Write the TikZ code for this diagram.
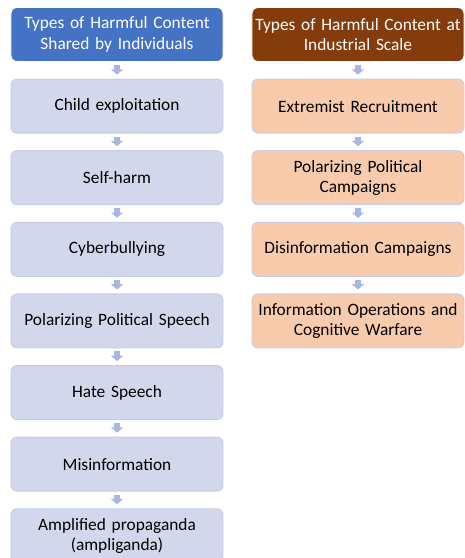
\documentclass[tikz,border=0pt]{standalone}
\usepackage{fontspec}
\setmainfont{Carlito}
\usetikzlibrary{positioning,arrows.meta}
\definecolor{headblue}{HTML}{4472C4}
\definecolor{headbrown}{HTML}{843C0C}
\definecolor{boxlav}{HTML}{D2D7EC}
\definecolor{boxpeach}{HTML}{F8CBAD}
\definecolor{rimblue}{HTML}{C5CDE8}
\definecolor{flowblue}{HTML}{A9B6DD}

\begin{document}
\begin{tikzpicture}[x=0.03cm,y=-0.03cm,
		node distance=0.5cm,
		every node/.style = {rounded corners=0.18cm, minimum width=6.36cm, minimum height=1.62cm,
			text width=6.2cm, align=center, inner sep=0pt, font=\fontsize{14.8}{17.4}\selectfont},
		header/.style = {draw=white, line width=0.8pt, text=white},
		indiv/.style = {fill=boxlav, draw=rimblue, line width=0.8pt},
		indust/.style = {fill=boxpeach, draw=rimblue, line width=0.8pt},
		flow/.style = {draw=flowblue, line width=0.18cm, shorten <=0.09cm, shorten >=0.12cm,
			-{Triangle[width=0.36cm,length=0.16cm]}}
		]
		\useasboundingbox (0,0) rectangle (464,558);
		% individuals
		\node[header, fill=headblue] (ih) at (117,34.5) {Types of Harmful Content\\Shared by Individuals};
		\node[indiv, below=of ih] (i1) {Child exploitation};
		\node[indiv, below=of i1] (i2) {Self-harm};
		\node[indiv, below=of i2] (i3) {Cyberbullying};
		\node[indiv, below=of i3] (i4) {Polarizing Political Speech};
		\node[indiv, below=of i4] (i5) {Hate Speech};
		\node[indiv, below=of i5] (i6) {Misinformation};
		\node[indiv, below=of i6] (i7) {Amplified propaganda\\(ampliganda)};
		% industrial scale
		\node[header, fill=headbrown] (sh) at (358,34.5) {Types of Harmful Content at\\Industrial Scale};
		\node[indust, below=of sh] (s1) {Extremist Recruitment};
		\node[indust, below=of s1] (s2) {Polarizing Political\\Campaigns};
		\node[indust, below=of s2] (s3) {Disinformation Campaigns};
		\node[indust, below=of s3] (s4) {Information Operations and\\Cognitive Warfare};
		% flow arrows
		\draw[flow] (ih) -- (i1);
		\draw[flow] (i1) -- (i2);
		\draw[flow] (i2) -- (i3);
		\draw[flow] (i3) -- (i4);
		\draw[flow] (i4) -- (i5);
		\draw[flow] (i5) -- (i6);
		\draw[flow] (i6) -- (i7);
		\draw[flow] (sh) -- (s1);
		\draw[flow] (s1) -- (s2);
		\draw[flow] (s2) -- (s3);
		\draw[flow] (s3) -- (s4);
\end{tikzpicture}
\end{document}
